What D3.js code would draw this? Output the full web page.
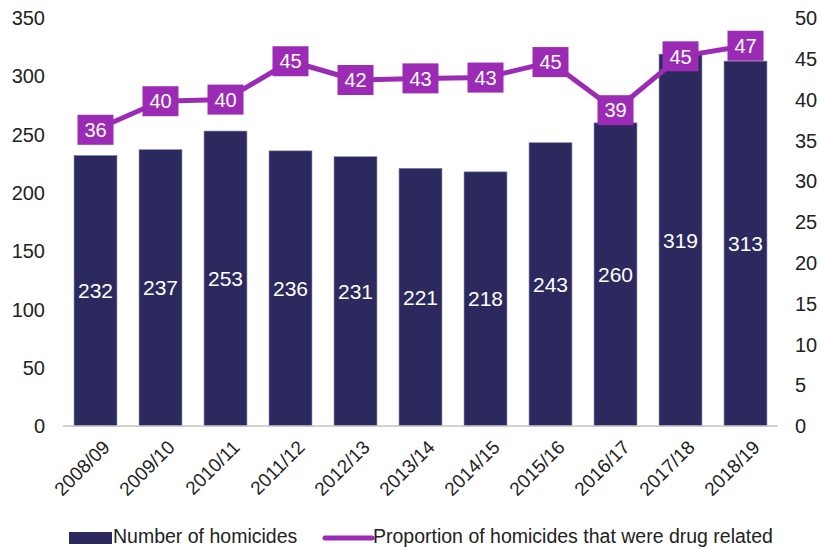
<!DOCTYPE html>
<html><head><meta charset="utf-8">
<script src="https://cdn.jsdelivr.net/npm/d3@7"></script>
<style>body{margin:0;background:#fff}svg{display:block}text{font-family:"Liberation Sans",Arial,Helvetica,sans-serif}</style>
</head><body><svg id="c" width="821" height="547"></svg>
<script>
const categories = ["2008/09","2009/10","2010/11","2011/12","2012/13","2013/14","2014/15","2015/16","2016/17","2017/18","2018/19"];
const homicides = [232,237,253,236,231,221,218,243,260,319,313];
const drugShare = [36.3,39.8,40.0,44.7,42.4,42.6,42.7,44.6,38.7,45.3,46.6];
const leftTicks = [0,50,100,150,200,250,300,350];
const rightTicks = [0,5,10,15,20,25,30,35,40,45,50];
const legendLabels = ["Number of homicides","Proportion of homicides that were drug related"];

const navy = "#2b295e", purple = "#9b2ab4";
const svg = d3.select("#c");
const x = d3.scaleBand().domain(categories).range([63,778]).paddingInner(0.34).paddingOuter(0.17);
const yL = d3.scaleLinear().domain([0,350]).range([426,18]);
const yR = d3.scaleLinear().domain([0,50]).range([426,18]);

// left axis labels
svg.append("g").selectAll("text").data(leftTicks).join("text")
  .attr("x",45).attr("y",d=>yL(d)).attr("dy","0.36em").attr("text-anchor","end")
  .attr("font-size",20).attr("fill","#222").text(d=>d);
// right axis labels
svg.append("g").selectAll("text").data(rightTicks).join("text")
  .attr("x",795).attr("y",d=>yR(d)).attr("dy","0.36em").attr("text-anchor","start")
  .attr("font-size",20).attr("fill","#222").text(d=>d);

// bars
svg.append("g").selectAll("rect").data(homicides).join("rect")
  .attr("x",(d,i)=>x(categories[i])).attr("width",x.bandwidth())
  .attr("y",d=>yL(d)).attr("height",d=>yL(0)-yL(d))
  .attr("fill",navy).attr("stroke","#7f7da3").attr("stroke-width",0.6);
// bar labels
svg.append("g").selectAll("text").data(homicides).join("text")
  .attr("x",(d,i)=>x(categories[i])+x.bandwidth()/2)
  .attr("y",d=>(yL(d)+yL(0))/2).attr("dy","0.36em").attr("text-anchor","middle")
  .attr("font-size",21).attr("fill","#fff").text(d=>d);

// baseline
svg.append("line").attr("x1",63).attr("x2",778).attr("y1",yL(0)).attr("y2",yL(0))
  .attr("stroke","#c4c4c4").attr("stroke-width",1.5);

// x labels
svg.append("g").selectAll("text").data(categories).join("text")
  .attr("transform",d=>`translate(${x(d)+x.bandwidth()/2+6},${439}) rotate(-45)`)
  .attr("text-anchor","end").attr("dy","0.7em").attr("font-size",19).attr("fill","#222").text(d=>d);

// line
const cx = (d,i)=>x(categories[i])+x.bandwidth()/2;
svg.append("path").datum(drugShare)
  .attr("d",d3.line().x(cx).y(d=>yR(d)))
  .attr("fill","none").attr("stroke",purple).attr("stroke-width",5).attr("stroke-linejoin","round");
const lab = svg.append("g").selectAll("g").data(drugShare).join("g")
  .attr("transform",(d,i)=>`translate(${cx(d,i)},${yR(d)})`);
lab.append("rect").attr("x",-18).attr("y",-15).attr("width",36).attr("height",30).attr("fill",purple);
lab.append("text").attr("text-anchor","middle").attr("dy","0.36em").attr("font-size",20)
  .attr("fill","#fff").text(d=>Math.round(d));

// legend
svg.append("rect").attr("x",69).attr("y",532).attr("width",43).attr("height",12).attr("fill",navy);
svg.append("text").attr("x",113).attr("y",543).attr("font-size",19.5).attr("fill","#222").text(legendLabels[0]);
svg.append("line").attr("x1",325).attr("x2",372).attr("y1",538).attr("y2",538)
  .attr("stroke",purple).attr("stroke-width",5).attr("stroke-linecap","round");
svg.append("text").attr("x",373).attr("y",543).attr("font-size",19.5).attr("fill","#222").text(legendLabels[1]);
</script></body></html>
